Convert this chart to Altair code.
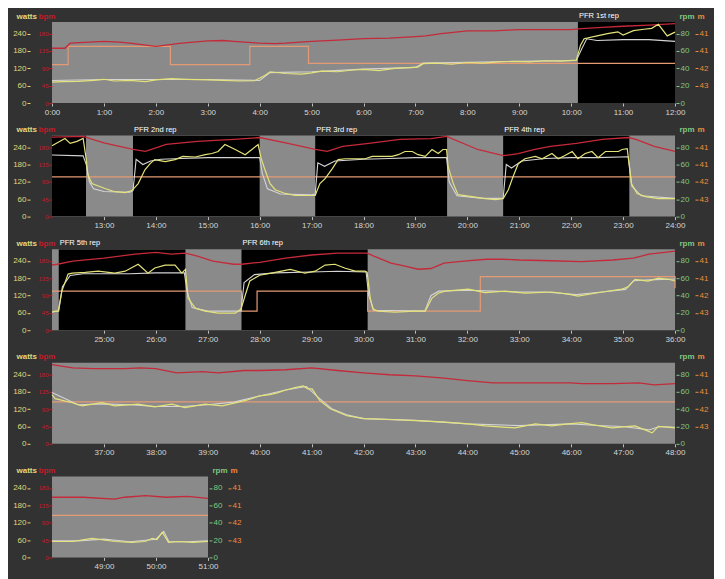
import altair as alt
import pandas as pd

# ---------------- data (minutes into the session) ----------------
power_t = [0.0, 0.2, 0.5, 0.8, 1.0, 1.2, 1.5, 1.8, 2.0, 2.3, 2.6, 3.0, 3.3, 3.6, 3.9, 4.1, 4.2, 4.5, 4.8, 5.0,
           5.2, 5.5, 5.8, 6.0, 6.3, 6.6, 6.9, 7.05, 7.15, 7.4, 7.7, 8.0, 8.3, 8.6, 8.9, 9.2, 9.5, 9.8, 10.1, 10.18,
           10.25, 10.5, 10.7, 10.9, 11.0, 11.2, 11.4, 11.55, 11.68, 11.85, 12.0,
           12.25, 12.35, 12.48, 12.6, 12.66, 12.69, 12.77, 12.92, 13.02, 13.21, 13.41, 13.54, 13.66, 13.79, 13.89,
           13.98, 14.18, 14.37, 14.52, 14.76, 14.95, 15.08, 15.2, 15.33, 15.53, 15.72, 15.85, 15.97, 16.03, 16.1,
           16.2, 16.3, 16.49, 16.68, 17.07, 17.16, 17.26, 17.4, 17.51, 17.65, 18.03, 18.17, 18.55, 18.67, 18.8,
           18.94, 19.05, 19.19, 19.32, 19.44, 19.53, 19.6, 19.63, 19.73, 19.82, 20.09, 20.34, 20.54, 20.69, 20.79,
           20.88, 20.98, 21.11, 21.31, 21.44, 21.63, 21.75, 21.88, 22.02, 22.13, 22.27, 22.4, 22.52, 22.66, 22.91,
           22.98, 23.08, 23.16, 23.27, 23.43, 23.68, 24.0,
           24.06, 24.12, 24.19, 24.31, 24.39, 24.64, 24.89, 25.21, 25.41, 25.66, 25.85, 25.98, 26.18, 26.37, 26.5,
           26.57, 26.62, 26.76, 26.95, 27.2, 27.53, 27.64, 27.72, 27.81, 28.0, 28.3, 28.59, 28.87, 29.07, 29.26,
           29.45, 29.65, 29.84, 30.03, 30.07, 30.13, 30.18, 30.28, 30.61, 30.99, 31.19, 31.32, 31.44, 31.57, 32.02,
           32.34, 32.73, 33.11, 33.63, 33.94, 34.13, 34.6, 34.98, 35.1, 35.23, 35.48, 35.68, 35.87, 36.0,
           36.06, 36.39, 36.58, 36.96, 37.21, 37.66, 37.98, 38.31, 38.56, 38.95, 39.28, 39.72, 40.0, 40.2, 40.34,
           40.49, 40.68, 40.84, 40.93, 41.01, 41.16, 41.36, 41.68, 42.01, 42.51, 43.01, 43.51, 44.02, 44.34, 44.92,
           45.31, 45.63, 45.94, 46.21, 46.4, 46.79, 47.23, 47.56, 47.68, 48.0,
           48.39, 48.77, 49.21, 49.54, 49.79, 49.93, 50.02, 50.12, 50.18, 50.24, 50.43, 50.7, 51.0]
power_w = [72, 74, 75, 78, 82, 76, 78, 74, 80, 84, 82, 80, 78, 76, 77, 95, 108, 102, 100, 104,
           110, 108, 114, 116, 112, 120, 122, 124, 136, 138, 134, 140, 138, 142, 144, 142, 146, 145, 148, 200,
           222, 232, 240, 246, 235, 250, 255, 258, 272, 232, 245,
           270, 253, 260, 270, 197, 145, 114, 104, 97, 86, 83, 90, 114, 162, 183,
           197, 190, 197, 208, 206, 214, 218, 225, 249, 232, 214, 232, 249, 200, 163,
           114, 93, 80, 73, 73, 114, 131, 166, 197, 200, 200, 208, 208, 214, 225,
           225, 214, 208, 232, 218, 232, 232, 173, 114, 76, 69, 62, 59, 62, 93,
           138, 183, 200, 208, 200, 218, 200, 211, 225, 200, 218, 225, 204, 225, 225,
           232, 235, 114, 80, 69, 62, 62,
           66, 66, 135, 194, 197, 200, 204, 197, 204, 228, 197, 215, 225, 225, 197,
           210, 111, 76, 66, 59, 59, 73, 120, 170, 190, 200, 210, 197, 204, 225,
           228, 214, 204, 204, 200, 111, 73, 66, 62, 66, 66, 111, 128, 135, 142,
           130, 135, 128, 132, 125, 118, 132, 142, 150, 176, 170, 180, 176, 170,
           156, 142, 131, 142, 131, 137, 128, 137, 125, 137, 131, 149, 166, 170, 176,
           185, 194, 200, 190, 190, 149, 121, 97, 87, 84, 80, 76, 69, 62, 55,
           69, 62, 69, 73, 66, 55, 62, 38, 60, 55,
           55, 66, 55, 52, 55, 66, 62, 87, 70, 52, 55, 52, 55]

hr_t = [0.0, 0.25, 0.35, 1.0, 1.3, 1.5, 2.0, 2.5, 3.0, 3.3, 3.5, 4.0, 4.3, 4.5, 5.0, 5.5, 6.0, 6.5, 7.0, 7.2,
        7.5, 8.0, 8.5, 8.8, 9.0, 9.5, 10.0, 10.2, 10.6, 11.0, 11.5, 12.0,
        12.6, 13.0, 13.56, 13.8, 14.2, 14.8, 15.5, 16.0, 16.5, 17.07, 17.3, 17.6, 18.1, 18.7, 19.3, 19.6, 20.2,
        20.69, 20.98, 21.3, 21.6, 22.1, 22.6, 23.1, 23.25, 23.6, 24.0,
        24.1, 24.4, 25.0, 25.6, 26.0, 26.3, 26.57, 26.8, 27.1, 27.5, 27.65, 28.0, 28.5, 29.0, 29.5, 30.07, 30.2,
        30.53, 30.8, 31.05, 31.3, 31.55, 31.93, 32.37, 32.7, 33.0, 33.6, 34.2, 34.8, 35.2, 35.5, 36.0,
        36.4, 36.8, 37.4, 37.7, 38.0, 38.4, 38.9, 39.2, 39.7, 40.0, 40.5, 41.0, 41.5, 42.0, 42.5, 43.0, 43.5,
        44.0, 44.5, 45.0, 45.5, 46.0, 46.2, 46.8, 47.3, 47.6, 48.0,
        48.6, 49.2, 49.4, 49.8, 50.2, 50.6, 51.0]
hr_bpm = [142, 142, 155, 160, 158, 155, 147, 155, 161, 162, 160, 155, 154, 155, 160, 163, 167, 168, 172, 174,
          180, 187, 187, 189, 190, 190, 190, 193, 196, 199, 202, 206,
          208, 191, 174, 169, 187, 195, 200, 205, 191, 174, 169, 182, 190, 200, 202, 208, 174,
          158, 163, 174, 182, 190, 200, 205, 200, 182, 169,
          171, 179, 187, 197, 202, 197, 200, 192, 179, 171, 171, 176, 187, 195, 200, 200, 192,
          174, 166, 158, 160, 174, 179, 184, 184, 182, 180, 178, 182, 187, 197, 205,
          197, 195, 195, 197, 195, 184, 187, 184, 190, 190, 192, 197, 190, 184, 179, 176, 171,
          164, 158, 158, 158, 158, 156, 156, 158, 153, 156,
          156, 151, 156, 160, 156, 158, 153]

cad_t = [0.0, 1.0, 2.0, 3.0, 4.0, 4.2, 5.0, 6.0, 7.0, 7.15, 8.0, 9.0, 10.1, 10.2, 10.3, 10.5, 11.0, 11.5, 12.0,
         12.6, 12.66, 12.72, 12.8, 13.0, 13.5, 13.56, 13.62, 13.75, 13.9, 14.1, 14.5, 15.0, 15.5, 16.0, 16.05,
         16.15, 16.4, 17.0, 17.07, 17.12, 17.25, 17.45, 18.0, 18.5, 19.0, 19.6, 19.65, 19.8, 20.3, 20.69, 20.75,
         20.85, 21.05, 21.5, 22.0, 22.5, 23.1, 23.17, 23.35, 24.0,
         24.13, 24.2, 24.35, 24.6, 25.0, 25.5, 26.0, 26.55, 26.6, 26.7, 27.0, 27.64, 27.7, 27.9, 28.3, 29.0,
         29.5, 30.05, 30.1, 30.2, 31.18, 31.3, 31.45, 32.0, 32.5, 33.0, 33.5, 34.1, 34.6, 35.05, 35.2, 35.5, 36.0,
         36.5, 37.0, 37.5, 38.0, 38.5, 39.0, 39.5, 40.0, 40.5, 40.9, 41.1, 41.4, 41.7, 42.0, 43.0, 44.0, 45.0,
         46.0, 46.5, 47.0, 47.5, 47.7, 48.0,
         48.5, 49.0, 49.5, 50.0, 50.15, 50.25, 50.6, 51.0]
cad_rpm = [26, 27, 27, 27, 26, 35, 36, 39, 41, 46, 47, 48, 49, 62, 74, 72, 73, 73, 71,
           70, 60, 40, 32, 29, 28, 30, 66, 60, 64, 66, 67, 68, 68, 68, 50,
           32, 26, 25, 26, 62, 58, 64, 66, 67, 68, 68, 40, 24, 21, 21, 60,
           56, 64, 67, 68, 68, 69, 35, 24, 21,
           22, 50, 63, 65, 65, 65, 66, 66, 45, 26, 22, 22, 55, 64, 66, 67,
           68, 67, 40, 23, 22, 40, 45, 46, 45, 44, 44, 41, 44, 47, 57, 58, 59,
           45, 46, 45, 43, 43, 45, 48, 55, 62, 66, 55, 40, 33, 29, 27, 23, 21,
           23, 21, 20, 16, 20, 19,
           19, 21, 18, 21, 30, 18, 18, 19]

alt_t = [0.0, 0.31, 2.28, 3.81, 4.94, 12.0, 24.0, 27.65, 27.95, 30.08, 32.25, 36.0, 48.0, 51.0]
alt_m = [41.87, 41.24, 41.87, 41.24, 41.83, 41.83, 41.85, 42.54, 41.85, 42.54, 41.35, 41.75, 41.75, 41.75]

rep_start = [10.13, 13.56, 17.07, 20.69, 24.13, 27.65]
rep_end = [12.655, 16.0, 19.61, 23.12, 26.57, 30.08]
rep_label = ["PFR 1st rep", "PFR 2nd rep", "PFR 3rd rep", "PFR 4th rep", "PFR 5th rep", "PFR 6th rep"]

row_start = [0, 12, 24, 36, 48]
row_end = [12, 24, 36, 48, 51]
row_ticks = [list(range(0, 13)), list(range(13, 25)), list(range(25, 37)), list(range(37, 49)), list(range(49, 52))]

# ---------------- styling ----------------
BG = "#323232"
PLOT = "#8a8a8a"
POWER = "#e4e27a"
HR = "#c42a3a"
CAD = "#d4d4d4"
ALTC = "#e59a74"
W_COL = "#e2d67a"
HR_COL = "#c01c2c"
RPM_COL = "#80c880"
M_COL = "#f08a3c"
FONT = "Liberation Sans"
PX_PER_MIN = 51.9
H = 81

power_df = pd.DataFrame({"t": power_t, "v": power_w})
hr_df = pd.DataFrame({"t": hr_t, "v": hr_bpm})
cad_df = pd.DataFrame({"t": cad_t, "v": cad_rpm})
alt_df = pd.DataFrame({"t": alt_t, "v": alt_m})
rep_df = pd.DataFrame({"s": rep_start, "e": rep_end, "label": rep_label})


def yaxis(orient, offset, values, title, color, title_x, fmt=None, label_size=8):
    kw = dict(orient=orient, offset=offset, values=values, title=title, titleAngle=0,
              titleX=title_x, titleY=-4, titleAlign="left", titleBaseline="alphabetic",
              titleColor=color, titleFontSize=8, titleFontWeight="bold", titleFont=FONT,
              labelColor=color, labelFontSize=label_size, labelFont=FONT, tickColor=color,
              tickSize=3, labelPadding=1, domain=False, grid=False)
    if fmt:
        kw["format"] = fmt
    return alt.Axis(**kw)


def row_chart(i):
    s, e = row_start[i], row_end[i]
    w = round((e - s) * PX_PER_MIN)
    xs = alt.Scale(domain=[s, e], nice=False, zero=False)
    xa = alt.Axis(values=row_ticks[i], labelExpr="floor(datum.value) + ':00'", labelColor="#d6d6d6",
                  labelFont=FONT, labelFontSize=8, labelPadding=2, labelFlush=False, tickColor="#bdbdbd",
                  tickSize=3, domain=False, grid=False, title=None)
    flt = f"datum.t >= {s} && datum.t <= {e}"

    def X(f):
        return alt.X(f, scale=xs, axis=xa, title=None)

    rects = alt.Chart(rep_df).mark_rect(color="black", clip=True).encode(
        x=X("s:Q"), x2="e:Q", y=alt.value(0), y2=alt.value(H)
    ).transform_filter(f"datum.e > {s} && datum.s < {e}")

    altl = alt.Chart(alt_df).mark_line(color=ALTC, strokeWidth=1.2, interpolate="step-after").encode(
        x=X("t:Q"),
        y=alt.Y("v:Q", scale=alt.Scale(domain=[43.2, 40.4], nice=False, zero=False),
                axis=yaxis("right", 20, [42.6, 42.0, 41.4, 40.8], "m", M_COL, 2, fmt=".0f")),
    ).transform_filter(flt)

    hrl = alt.Chart(hr_df).mark_line(color=HR, strokeWidth=1.3).encode(
        x=X("t:Q"),
        y=alt.Y("v:Q", scale=alt.Scale(domain=[0, 210], nice=False),
                axis=yaxis("left", 0, [0, 45, 90, 135, 180], "bpm", HR_COL, -14, label_size=6)),
    ).transform_filter(flt)

    cadl = alt.Chart(cad_df).mark_line(color=CAD, strokeWidth=1.1).encode(
        x=X("t:Q"),
        y=alt.Y("v:Q", scale=alt.Scale(domain=[0, 280 / 3], nice=False),
                axis=yaxis("right", 1, [0, 20, 40, 60, 80], "rpm", RPM_COL, 3)),
    ).transform_filter(flt)

    powl = alt.Chart(power_df).mark_line(color=POWER, strokeWidth=1.2).encode(
        x=X("t:Q"),
        y=alt.Y("v:Q", scale=alt.Scale(domain=[0, 280], nice=False),
                axis=yaxis("left", 22, [0, 60, 120, 180, 240], "watts", W_COL, -14)),
    ).transform_filter(flt)

    txt = alt.Chart(rep_df).mark_text(color="white", fontSize=7.5, font=FONT, align="left",
                                      baseline="bottom", dx=1).encode(
        x=X("s:Q"), text="label:N", y=alt.value(-2)
    ).transform_filter(f"datum.s >= {s} && datum.s < {e}")

    return alt.layer(rects, altl, hrl, cadl, powl, txt).resolve_scale(y="independent").properties(
        width=w, height=H)


chart = alt.vconcat(*[row_chart(i) for i in range(5)], spacing=32.6, bounds="flush").configure(
    background=BG, padding={"left": 4, "top": 4, "right": 6, "bottom": 14}
).configure_view(fill=PLOT, stroke=None)

chart.save("out.html", embed_options={"renderer": "svg", "actions": False})
